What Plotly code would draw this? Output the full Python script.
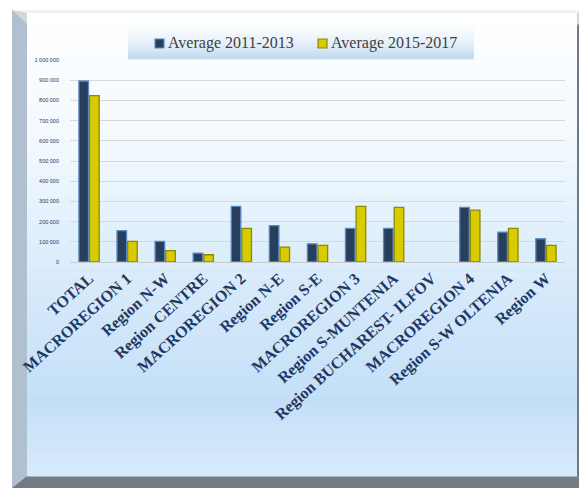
import plotly.graph_objects as go

categories = ["TOTAL", "MACROREGION 1", "Region N-W", "Region CENTRE", "MACROREGION 2",
              "Region N-E", "Region S-E", "MACROREGION 3", "Region S-MUNTENIA",
              "Region BUCHAREST- ILFOV", "MACROREGION 4", "Region S-W OLTENIA", "Region W"]
avg_2011_2013 = [896000, 155000, 102000, 44000, 275000, 180000, 90000, 166000, 166000, None, 270000, 148000, 115000]
avg_2015_2017 = [824000, 102000, 56000, 36000, 166000, 74000, 82000, 275000, 270000, None, 257000, 166000, 82000]
series_names = ["Average 2011-2013", "Average 2015-2017"]
y_ticks = [0, 100000, 200000, 300000, 400000, 500000, 600000, 700000, 800000, 900000, 1000000]
y_tick_text = ["0", "100 000", "200 000", "300 000", "400 000", "500 000", "600 000",
               "700 000", "800 000", "900 000", "1 000 000"]

# la página tiene 8px de margen en body: la figura empieza en (8, 8)
OFF = 8
W, H = 587 - OFF, 488 - OFF
PL, PR, PT, PB = 70, 565, 60, 262   # área de trazado en coordenadas de página


def px(x):
    return (x - PL) / (PR - PL)


def py(y):
    return (PB - y) / (PB - PT)


def mix(c1, c2, t):
    a = [int(c1[i:i + 2], 16) for i in (1, 3, 5)]
    b = [int(c2[i:i + 2], 16) for i in (1, 3, 5)]
    return "#" + "".join(f"{round(a[k] + (b[k] - a[k]) * t):02x}" for k in range(3))


def grad(stops, y):
    for (y0, c0), (y1, c1) in zip(stops, stops[1:]):
        if y0 <= y <= y1:
            return mix(c0, c1, (y - y0) / (y1 - y0))
    return stops[-1][1]


def path(pts):
    return "M " + " L ".join(f"{px(x)},{py(y)}" for x, y in pts) + " Z"


shapes = []
# marco biselado
shapes.append(dict(type="rect", xref="paper", yref="paper", x0=px(12), x1=px(587), y0=py(488), y1=py(10),
                   fillcolor="#d0d6dc", line=dict(width=0), layer="below"))
shapes.append(dict(type="path", xref="paper", yref="paper",
                   path=path([(12, 10), (27, 24), (27, 476), (12, 488)]),
                   fillcolor="#b0c0d0", line=dict(width=0), layer="below"))
shapes.append(dict(type="path", xref="paper", yref="paper",
                   path=path([(587, 14), (577, 26), (577, 476), (587, 488)]),
                   fillcolor="#6f7a84", line=dict(width=0), layer="below"))
shapes.append(dict(type="path", xref="paper", yref="paper",
                   path=path([(12, 488), (27, 476), (577, 476), (587, 488)]),
                   fillcolor="#737c85", line=dict(width=0), layer="below"))
shapes.append(dict(type="path", xref="paper", yref="paper",
                   path=path([(12, 10), (27, 13), (577, 13), (587, 10)]),
                   fillcolor="#f2f2f2", line=dict(width=0), layer="below"))

# cara interior con degradado
stops = [(13, "#ffffff"), (140, "#f3f9fe"), (260, "#dcedfb"), (400, "#c3dff7"), (476, "#d8ebfc")]
n = 40
for i in range(n):
    y0 = 13 + (476 - 13) * i / n
    y1 = 13 + (476 - 13) * (i + 1) / n
    shapes.append(dict(type="rect", xref="paper", yref="paper", x0=px(27), x1=px(577),
                       y0=py(y1 + 0.5), y1=py(y0), fillcolor=grad(stops, (y0 + y1) / 2),
                       line=dict(width=0), layer="below"))

# caja de la leyenda
lstops = [(27, "#fbfdff"), (45, "#e2eef9"), (59, "#c0d8ef")]
m = 10
for i in range(m):
    y0 = 27 + 32 * i / m
    y1 = 27 + 32 * (i + 1) / m
    shapes.append(dict(type="rect", xref="paper", yref="paper", x0=px(128), x1=px(474),
                       y0=py(y1 + 0.3), y1=py(y0), fillcolor=grad(lstops, (y0 + y1) / 2),
                       line=dict(width=0), layer="below"))

bar_colors = [("#263f5c", "#5a8cc0"), ("#d6cc00", "#8f8800")]
legend_x = [155, 318]
annotations = []
for name, (fill, edge), lx in zip(series_names, bar_colors, legend_x):
    shapes.append(dict(type="rect", xref="paper", yref="paper", x0=px(lx), x1=px(lx + 9),
                       y0=py(48), y1=py(39), fillcolor=fill, line=dict(color=edge, width=1.2)))
    annotations.append(dict(xref="paper", yref="paper", x=px(lx + 11), y=py(43.5), xanchor="left",
                            yanchor="middle", text=name, showarrow=False,
                            font=dict(family="Liberation Serif", size=16, color="#404040")))

fig = go.Figure()
for name, vals, (fill, edge) in zip(series_names, [avg_2011_2013, avg_2015_2017], bar_colors):
    fig.add_trace(go.Bar(x=categories, y=vals, name=name,
                         marker=dict(color=fill, line=dict(color=edge, width=1.3))))

fig.update_layout(
    width=W, height=H,
    margin=dict(l=PL - OFF, r=587 - PR, t=PT - OFF, b=H - (PB - OFF)),
    paper_bgcolor="white",
    plot_bgcolor="rgba(0,0,0,0)",
    barmode="group",
    bargap=0.44,
    bargroupgap=0.1,
    shapes=shapes,
    annotations=annotations,
    showlegend=False,
    xaxis=dict(tickangle=-42, tickfont=dict(family="Liberation Serif", size=16, color="#1f3864", weight="bold"),
               showline=True, linecolor="#c8ccd0", ticks="", showgrid=False, automargin=False),
    yaxis=dict(range=[0, 1000000], tickvals=y_ticks, ticktext=y_tick_text, ticklabelstandoff=10,
               tickfont=dict(family="Liberation Sans", size=5.5, color="#1f3864"),
               showgrid=True, gridcolor="#d8d8d8", gridwidth=1, zeroline=False, ticks="", automargin=False),
)

fig.write_html("out.html")
